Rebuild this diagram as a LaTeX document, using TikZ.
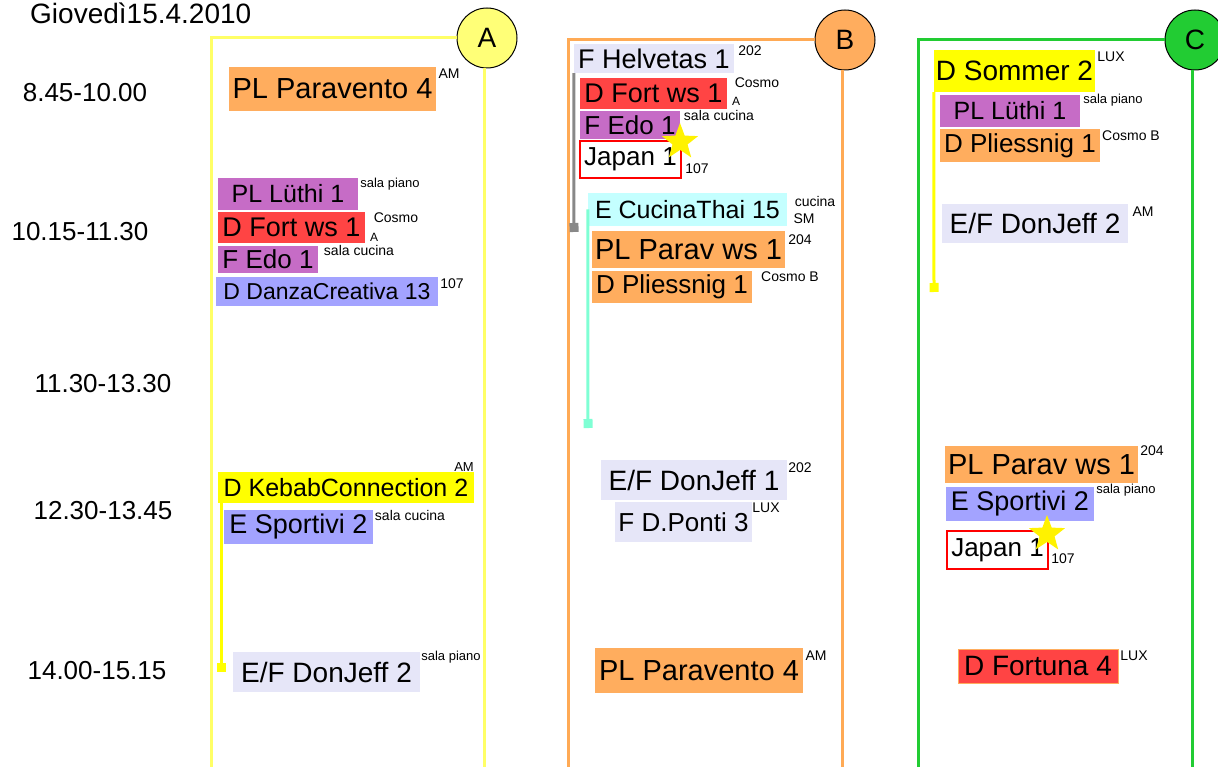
\documentclass[tikz,border=0pt]{standalone}
\usepackage{fontspec}
\setmainfont{Liberation Sans}
\usepackage{xcolor}
\usetikzlibrary{positioning, arrows.meta, shapes.geometric}

\newcommand{\fsz}[1]{\fontsize{#1}{#1}\selectfont}

\definecolor{orangebox}{RGB}{255,173,94}
\definecolor{violetbox}{RGB}{198,108,198}
\definecolor{redbox}{RGB}{255,68,68}
\definecolor{bluebox}{RGB}{163,163,255}
\definecolor{lavbox}{RGB}{230,230,248}
\definecolor{yelbox}{RGB}{255,255,0}
\definecolor{cyanbox}{RGB}{196,255,255}
\definecolor{frameA}{RGB}{255,255,102}
\definecolor{circA}{RGB}{255,255,119}
\definecolor{frameB}{RGB}{255,170,85}
\definecolor{frameC}{RGB}{34,204,51}
\definecolor{grayline}{RGB}{136,136,136}
\definecolor{aqualine}{RGB}{127,255,212}

\begin{document}
\begin{tikzpicture}[
    x=1pt, y=-1pt,
    ev_style/.style n args={3}{inner sep=0pt, minimum width=#1, minimum height=#2, font=\fsz{#3}},
    room_style/.style={inner sep=0pt, font=\fsz{14}},
    time_style/.style={inner sep=0pt, anchor=base, font=\fsz{26}},
    frame_style/.style={line width=3pt},
    circ_style/.style={circle, draw=black, line width=1pt, minimum size=60pt, inner sep=0pt, font=\fsz{28}},
    link_style/.style={line width=3pt, -{Square[length=9pt,width=9pt]}},
    star_style/.style={star, star points=5, star point ratio=2.4, fill=yellow, minimum size=38pt, inner sep=0pt},
    japan_style/.style={draw=red, line width=1.6pt}
]
    \useasboundingbox (0,0) rectangle (1218,767);

    % Title and time slots
    \node[inner sep=0pt, anchor=base west, font=\fsz{28}] (title) at (30,24) {Giovedì15.4.2010};
    \node[time_style] (t1) at (85,102) {8.45-10.00};
    \node[time_style] (t2) at (80,241) {10.15-11.30};
    \node[time_style] (t3) at (103,392) {11.30-13.30};
    \node[time_style] (t4) at (103,519) {12.30-13.45};
    \node[time_style] (t5) at (97,679) {14.00-15.15};

    % Frames
    \node[circ_style, fill=circA] (A) at (487,38) {A};
    \node[circ_style, fill=orangebox] (B) at (845,40) {B};
    \node[circ_style, fill=frameC] (C) at (1195,40) {C};
    \draw[frame_style, frameA] (211,767) |- (A.west);
    \draw[frame_style, frameA] ([xshift=-3pt]A.south) -- ++(0,700);
    \draw[frame_style, frameB] (568,767) |- (B.west);
    \draw[frame_style, frameB] ([xshift=-3pt]B.south) -- ++(0,700);
    \draw[frame_style, frameC] (918,767) |- (C.west);
    \draw[frame_style, frameC] ([xshift=-3pt]C.south) -- ++(0,700);

    % Column A
    \node[ev_style={207}{44}{29}, fill=orangebox] (a1) at (332.5,89) {PL Paravento 4};
    \node[room_style] at (449,74) {AM};
    \node[ev_style={140}{32}{25}, fill=violetbox] (a2) at (288,194) {PL Lüthi 1};
    \node[room_style, font=\fsz{13}] at (390,184) {sala piano};
    \node[ev_style={147}{31}{27}, fill=redbox] (a3) at (291.5,227.5) {D Fort ws 1};
    \node[room_style] at (396,218) {Cosmo};
    \node[room_style, font=\fsz{12}] at (374,237) {A};
    \node[ev_style={100}{27}{26}, fill=violetbox] (a4) at (268,259.5) {F Edo 1};
    \node[room_style] at (359,250) {sala cucina};
    \node[ev_style={222}{29}{23}, fill=bluebox] (a5) at (327,291.5) {D DanzaCreativa 13};
    \node[room_style] at (452,284) {107};
    \node[ev_style={256}{31}{25}, fill=yelbox] (a6) at (346,487.5) {D KebabConnection 2};
    \node[room_style, font=\fsz{13}] at (464,467) {AM};
    \node[ev_style={149}{34}{27}, fill=bluebox] (a7) at (298.5,527) {E Sportivi 2};
    \node[room_style] at (410,515) {sala cucina};
    \node[ev_style={187}{40}{28}, fill=lavbox] (a8) at (326.5,672) {E/F DonJeff 2};
    \node[room_style, font=\fsz{13}] at (451,657) {sala piano};

    % Column B
    \node[ev_style={160}{29}{27}, fill=lavbox] (b1) at (654,58.5) {F Helvetas 1};
    \node[room_style] at (750,51) {202};
    \node[ev_style={147}{31}{27}, fill=redbox] (b2) at (653.5,93.5) {D Fort ws 1};
    \node[room_style] at (757,83) {Cosmo};
    \node[room_style, font=\fsz{12}] at (736,101) {A};
    \node[ev_style={100}{28}{26}, fill=violetbox] (b3) at (630,125) {F Edo 1};
    \node[room_style] at (719,115) {sala cucina};
    \node[ev_style={101}{37}{26}, japan_style] (b4) at (630.5,159.5) {Japan 1};
    \node[room_style] at (697,169) {107};
    \node[star_style] (b4star) at (680,142) {};
    \node[ev_style={199}{33}{25}, fill=cyanbox] (b5) at (687.5,209.5) {E CucinaThai 15};
    \node[room_style] at (815,201) {cucina};
    \node[room_style] at (804,219) {SM};
    \node[ev_style={193}{37}{29}, fill=orangebox] (b6) at (688.5,249.5) {PL Parav ws 1};
    \node[room_style] at (800,240) {204};
    \node[ev_style={160}{32}{26}, fill=orangebox] (b7) at (672,287) {D Pliessnig 1};
    \node[room_style] at (790,277) {Cosmo B};
    \node[ev_style={186}{40}{28}, fill=lavbox] (b8) at (694,480) {E/F DonJeff 1};
    \node[room_style] at (800,468) {202};
    \node[ev_style={137}{40}{26}, fill=lavbox] (b9) at (683.5,522) {F D.Ponti 3};
    \node[room_style] at (766,508) {LUX};
    \node[ev_style={208}{45}{29}, fill=orangebox] (b10) at (699,670.5) {PL Paravento 4};
    \node[room_style] at (816,656) {AM};

    % Column C
    \node[ev_style={161}{42}{28}, fill=yelbox] (c1) at (1014.5,71) {D Sommer 2};
    \node[room_style] at (1111,57) {LUX};
    \node[ev_style={140}{32}{25}, fill=violetbox] (c2) at (1010,111) {PL Lüthi 1};
    \node[room_style, font=\fsz{13}] at (1113,100) {sala piano};
    \node[ev_style={160}{33}{26}, fill=orangebox] (c3) at (1020,145.5) {D Pliessnig 1};
    \node[room_style] at (1131,136) {Cosmo B};
    \node[ev_style={186}{39}{28}, fill=lavbox] (c4) at (1035,223.5) {E/F DonJeff 2};
    \node[room_style] at (1143,212) {AM};
    \node[ev_style={193}{37}{29}, fill=orangebox] (c5) at (1041.5,464.5) {PL Parav ws 1};
    \node[room_style] at (1152,451) {204};
    \node[ev_style={148}{34}{27}, fill=bluebox] (c6) at (1020,504) {E Sportivi 2};
    \node[room_style, font=\fsz{13}] at (1126,490) {sala piano};
    \node[ev_style={101}{38}{26}, japan_style] (c7) at (997.5,550) {Japan 1};
    \node[room_style] at (1063,559) {107};
    \node[star_style] (c7star) at (1047,534) {};
    \node[ev_style={160}{34}{28}, fill=redbox, draw=orangebox, line width=1pt] (c8) at (1038,666) {D Fortuna 4};
    \node[room_style] at (1134,656) {LUX};

    % Links
    \coordinate (a6end) at (221,672);
    \coordinate (b1end) at (574,232);
    \coordinate (b5end) at (588,428);
    \coordinate (c1end) at (934,292);
    \draw[link_style, yelbox] (a6.south west -| a6end) -- (a6end);
    \draw[link_style, grayline] (b1.south west) -- (b1end);
    \draw[link_style, aqualine] (b5.west) -- (b5end);
    \draw[link_style, yelbox] (c1.south west) -- (c1end);
\end{tikzpicture}
\end{document}
